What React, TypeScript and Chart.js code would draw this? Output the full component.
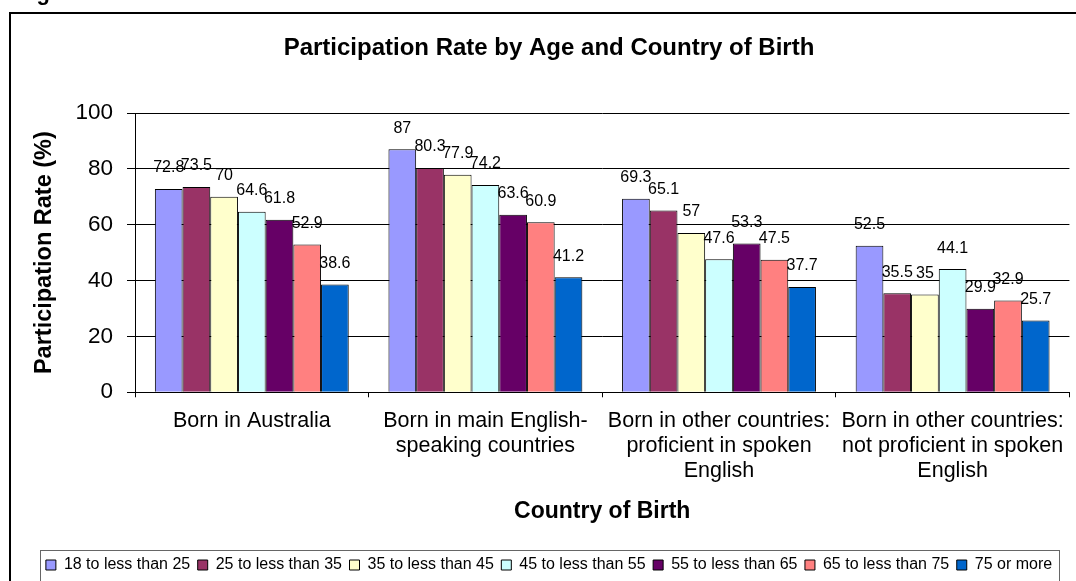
import React, { useEffect, useRef } from "react";
import { Chart, registerables } from "chart.js";

Chart.register(...registerables);

const categories: string[][] = [
  ["Born in Australia"],
  ["Born in main English-", "speaking countries"],
  ["Born in other countries:", "proficient in spoken", "English"],
  ["Born in other countries:", "not proficient in spoken", "English"],
];

const seriesNames = [
  "18 to less than 25",
  "25 to less than 35",
  "35 to less than 45",
  "45 to less than 55",
  "55 to less than 65",
  "65 to less than 75",
  "75 or more",
];

const age18to25 = [72.8, 87, 69.3, 52.5];
const age25to35 = [73.5, 80.3, 65.1, 35.5];
const age35to45 = [70, 77.9, 57, 35];
const age45to55 = [64.6, 74.2, 47.6, 44.1];
const age55to65 = [61.8, 63.6, 53.3, 29.9];
const age65to75 = [52.9, 60.9, 47.5, 32.9];
const age75plus = [38.6, 41.2, 37.7, 25.7];

const seriesValues = [age18to25, age25to35, age35to45, age45to55, age55to65, age65to75, age75plus];

const seriesColors = ["#9999FF", "#993366", "#FFFFCC", "#CCFFFF", "#660066", "#FF8080", "#0066CC"];

const yTicks = [0, 20, 40, 60, 80, 100];

const FONT = "'Liberation Sans', Arial, sans-serif";

const framePlugin = {
  id: "framePlugin",
  beforeDraw(chart: any) {
    const ctx = chart.ctx;
    ctx.save();
    ctx.fillStyle = "#ffffff";
    ctx.fillRect(0, 0, chart.width, chart.height);
    ctx.strokeStyle = "#000000";
    ctx.lineWidth = 2;
    ctx.strokeRect(10, 13, chart.width + 20, chart.height + 20);
    ctx.fillStyle = "#000000";
    ctx.font = `bold 22px ${FONT}`;
    ctx.textBaseline = "alphabetic";
    ctx.textAlign = "left";
    ctx.fillText("Figure", 17, 0);
    ctx.restore();
  },
  afterDraw(chart: any) {
    const legend = chart.legend;
    if (!legend || !legend.legendHitBoxes || !legend.legendHitBoxes.length) return;
    const boxes = legend.legendHitBoxes;
    let minL = Infinity;
    let maxR = -Infinity;
    boxes.forEach((b: any) => {
      minL = Math.min(minL, b.left);
      maxR = Math.max(maxR, b.left + b.width);
    });
    const ctx = chart.ctx;
    ctx.save();
    ctx.strokeStyle = "#666666";
    ctx.lineWidth = 1;
    const l = Math.round(minL - 6) + 0.5;
    const r = Math.round(maxR + 7) + 0.5;
    const t = Math.round(legend.top) + 0.5;
    ctx.strokeRect(l, t, r - l, chart.height + 10 - t);
    ctx.restore();
  },
};

const valueLabelPlugin = {
  id: "valueLabelPlugin",
  afterDatasetsDraw(chart: any) {
    const ctx = chart.ctx;
    ctx.save();
    ctx.font = `16px ${FONT}`;
    ctx.fillStyle = "#000000";
    ctx.textAlign = "center";
    ctx.textBaseline = "middle";
    chart.data.datasets.forEach((ds: any, di: number) => {
      const meta = chart.getDatasetMeta(di);
      meta.data.forEach((bar: any, i: number) => {
        ctx.fillText(String(ds.data[i]), bar.x, bar.y - 21);
      });
    });
    ctx.restore();
  },
};

export default function App() {
  const canvasRef = useRef<HTMLCanvasElement | null>(null);

  useEffect(() => {
    if (!canvasRef.current) return;
    const chart = new Chart(canvasRef.current, {
      type: "bar",
      data: {
        labels: categories,
        datasets: seriesNames.map((name, i) => ({
          label: name,
          data: seriesValues[i],
          backgroundColor: seriesColors[i],
          borderColor: "#000000",
          borderWidth: 1,
          barPercentage: 1,
          categoryPercentage: 0.83,
        })),
      },
      options: {
        responsive: false,
        animation: false,
        devicePixelRatio: 1,
        layout: { padding: { left: 28, right: 6, top: 0, bottom: -2 } },
        plugins: {
          title: {
            display: true,
            text: "Participation Rate by Age and Country of Birth",
            color: "#000000",
            font: { family: FONT, size: 24, weight: "bold", lineHeight: 1.2 },
            padding: { top: 34, bottom: 50.2 },
          },
          legend: {
            display: true,
            position: "bottom",
            labels: {
              color: "#000000",
              font: { family: FONT, size: 16 },
              boxWidth: 10,
              boxHeight: 10,
              padding: 7.5,
            },
          },
          tooltip: { enabled: false },
        },
        scales: {
          x: {
            offset: true,
            grid: {
              display: true,
              offset: true,
              drawOnChartArea: false,
              drawTicks: true,
              tickLength: 5,
              color: "#000000",
            },
            border: { display: true, color: "#000000", width: 1 },
            ticks: {
              color: "#000000",
              font: { family: FONT, size: 21.5, lineHeight: 1.163 },
              padding: 11.5,
              maxRotation: 0,
              minRotation: 0,
              autoSkip: false,
            },
            title: {
              display: true,
              text: "Country of Birth",
              color: "#000000",
              font: { family: FONT, size: 23, weight: "bold", lineHeight: 1.2 },
              padding: { top: 2.3, bottom: 24.3 },
            },
          },
          y: {
            min: 0,
            max: 100,
            afterBuildTicks: (scale: any) => {
              scale.ticks = yTicks.map((v) => ({ value: v }));
            },
            afterFit: (scale: any) => {
              scale.width = 107;
            },
            grid: {
              display: true,
              color: "#000000",
              drawTicks: true,
              tickLength: 8,
            },
            border: { display: true, color: "#000000", width: 1 },
            ticks: {
              color: "#000000",
              font: { family: FONT, size: 22.5 },
              padding: 14,
            },
            title: {
              display: true,
              text: "Participation Rate (%)",
              color: "#000000",
              font: { family: FONT, size: 23.5, weight: "bold", lineHeight: 1 },
              padding: { top: 4.5, bottom: 0 },
            },
          },
        },
      },
      plugins: [framePlugin, valueLabelPlugin],
    });
    return () => chart.destroy();
  }, []);

  return (
    <div style={{ position: "absolute", left: 0, top: 0, width: 1076, height: 581, background: "#ffffff" }}>
      <canvas ref={canvasRef} width={1076} height={581} style={{ display: "block", width: 1076, height: 581 }} />
    </div>
  );
}
